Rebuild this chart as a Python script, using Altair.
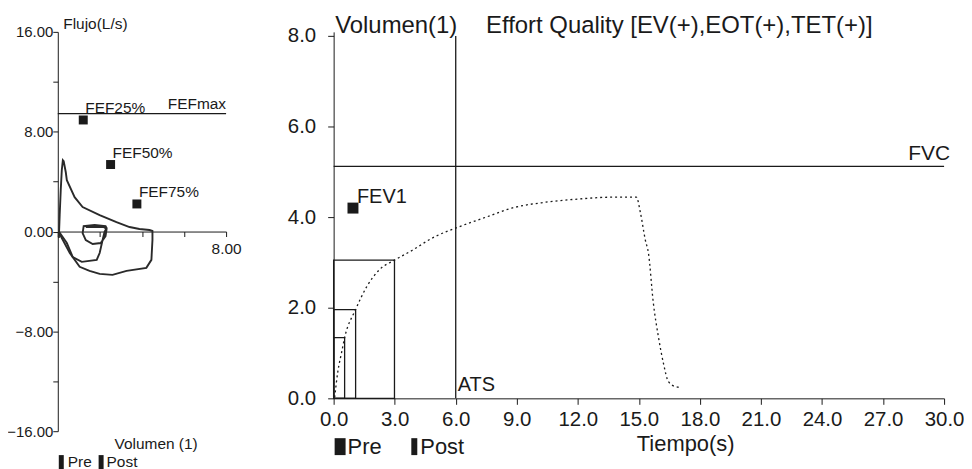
import altair as alt
import pandas as pd

FONT = "Liberation Sans"
INK = "#1a1a1a"

# ---------------- Left panel: flow-volume ----------------
loopA_vol = [0.05, 0.09, 0.14, 0.19, 0.24, 0.28, 0.38, 0.43, 0.80, 1.18, 1.99, 2.79, 3.41, 3.88,
             4.36, 4.50, 4.50, 4.45, 4.21, 3.27, 2.60, 1.99, 1.51, 1.04, 0.57, 0.19, 0.05]
loopA_flow = [-0.52, 1.32, 3.31, 4.91, 5.71, 5.63, 4.75, 4.11, 2.75, 1.96, 1.32, 0.76, 0.36, 0.20,
              0.12, 0.04, -0.68, -2.27, -2.91, -3.15, -3.47, -3.39, -3.15, -2.83, -1.72, -0.52, -0.04]
loopB_vol = [0.05, 0.43, 0.71, 1.14, 1.85, 1.99, 2.13, 2.22, 2.32, 2.27, 1.75, 1.23, 1.18, 1.33,
             1.66, 2.04, 2.27, 2.32, 2.18, 1.33]
loopB_flow = [0.0, -0.92, -2.04, -2.43, -2.27, -1.72, -0.68, -0.04, 0.28, 0.44, 0.52, 0.44, -0.12,
              -0.68, -1.00, -0.92, -0.36, 0.20, 0.36, 0.36]

fef_names = ["FEF25%", "FEF50%", "FEF75%"]
fef_vol = [1.21, 2.51, 3.76]
fef_flow = [8.94, 5.37, 2.21]
fefmax = 9.45

# ---------------- Right panel: volume-time ----------------
vt_time = [0.05, 0.20, 0.39, 0.54, 1.08, 1.62, 2.25, 2.99, 3.87, 4.85, 6.12, 7.49, 8.76, 10.43,
           12.04, 13.66, 14.88, 15.08, 15.32, 15.47, 15.71, 15.96, 16.2, 16.45, 16.79, 17.08]
vt_vol = [0.02, 0.57, 1.01, 1.34, 1.96, 2.46, 2.84, 3.05, 3.27, 3.54, 3.78, 4.00, 4.20, 4.33,
          4.40, 4.44, 4.44, 4.09, 3.49, 3.21, 2.11, 1.36, 0.79, 0.37, 0.26, 0.24]
box_time = [0.54, 1.08, 2.99]
box_vol = [1.34, 1.96, 3.05]
fvc = 5.12
ats_time = 6.0
fev1_time = 0.95
fev1_vol = 4.2

# ---------------- Left chart ----------------
LFS = 15.5
df_loops = pd.DataFrame({
    "x": loopA_vol + loopB_vol,
    "y": loopA_flow + loopB_flow,
    "loop": ["A"] * len(loopA_vol) + ["B"] * len(loopB_vol),
    "i": list(range(len(loopA_vol))) + list(range(len(loopB_vol))),
})
df_fef = pd.DataFrame({"x": fef_vol, "y": fef_flow, "name": fef_names})
df_fefmax = pd.DataFrame({"x": [0.0], "x2": [8.0], "y": [fefmax], "name": ["FEFmax"]})
one = pd.DataFrame({"k": [0]})

lx_scale = alt.Scale(domain=[0, 8], nice=False)
ly_scale = alt.Scale(domain=[-16, 16], nice=False)

lx = alt.X("x:Q", scale=lx_scale, axis=alt.Axis(
    values=[0, 2, 4, 6, 8], labelExpr="datum.value == 8 ? '8.00' : ''",
    labelFlush=False, labelOverlap=False,
    offset=-200.5, tickSize=5, labelPadding=5, labelFontSize=LFS, title=None, grid=False,
    domainColor=INK, tickColor=INK, labelColor=INK, labelFont=FONT))
ly = alt.Y("y:Q", scale=ly_scale, axis=alt.Axis(
    values=list(range(-16, 17, 4)),
    labelExpr="datum.value % 8 == 0 ? format(datum.value, '.2f') : ''",
    labelFlush=False, labelOverlap=False,
    tickSize=5, labelPadding=0, labelFontSize=15, grid=False,
    domainColor=INK, tickColor=INK, labelColor=INK, labelFont=FONT,
    title="Flujo(L/s)", titleAngle=0, titleX=5, titleY=-3, titleAlign="left",
    titleBaseline="alphabetic", titleFontSize=LFS, titleFontWeight="normal",
    titleColor=INK, titleFont=FONT))

loops = alt.Chart(df_loops).mark_line(color="#2a2a2a", strokeWidth=1.9).encode(
    x=lx, y=ly, order="i:Q", detail="loop:N")
fefmax_rule = alt.Chart(df_fefmax).mark_rule(color=INK, strokeWidth=1.3).encode(
    x=alt.X("x:Q", scale=lx_scale), x2="x2:Q", y=alt.Y("y:Q", scale=ly_scale))
fefmax_text = alt.Chart(df_fefmax).mark_text(
    font=FONT, fontSize=LFS, align="right", baseline="alphabetic", dy=-5, color=INK).encode(
    x=alt.X("x2:Q", scale=lx_scale), y=alt.Y("y:Q", scale=ly_scale), text="name:N")
fef_pts = alt.Chart(df_fef).mark_square(size=81, color=INK, opacity=1).encode(
    x=alt.X("x:Q", scale=lx_scale), y=alt.Y("y:Q", scale=ly_scale))
fef_txt = alt.Chart(df_fef).mark_text(
    font=FONT, fontSize=LFS, align="left", baseline="alphabetic", dx=2, dy=-7, color=INK).encode(
    x=alt.X("x:Q", scale=lx_scale), y=alt.Y("y:Q", scale=ly_scale), text="name:N")
l_vol_label = alt.Chart(one).mark_text(
    font=FONT, fontSize=LFS, align="left", baseline="middle", color=INK, text="Volumen (1)").encode(
    x=alt.value(57), y=alt.value(414))
l_leg_bars = alt.Chart(pd.DataFrame({"a": [1, 41], "b": [6, 46]})).mark_rect(color=INK).encode(
    x=alt.X("a:Q", scale=None), x2="b:Q", y=alt.value(425), y2=alt.value(441))
l_leg_txt = alt.Chart(pd.DataFrame({"a": [10, 49], "t": ["Pre", "Post"]})).mark_text(
    font=FONT, fontSize=LFS, align="left", baseline="middle", color=INK).encode(
    x=alt.X("a:Q", scale=None), y=alt.value(432), text="t:N")

left = alt.layer(loops, fefmax_rule, fefmax_text, fef_pts, fef_txt,
                 l_vol_label, l_leg_bars, l_leg_txt).properties(width=169, height=401)

# ---------------- Right chart ----------------
RFS = 20.5
TFS = 24
df_vt = pd.DataFrame({"x": vt_time, "y": vt_vol, "i": list(range(len(vt_time)))})
df_box = pd.DataFrame({"x": [0.0] * 3, "x2": box_time, "y": [0.0] * 3, "y2": box_vol})
df_fvc = pd.DataFrame({"x": [0.0], "x2": [30.0], "y": [fvc], "t": ["FVC"]})
df_ats = pd.DataFrame({"x": [ats_time], "y": [0.0], "y2": [8.0], "t": ["ATS"]})
df_fev1 = pd.DataFrame({"x": [fev1_time], "y": [fev1_vol], "t": ["FEV1"]})

rx_scale = alt.Scale(domain=[0, 30], nice=False)
ry_scale = alt.Scale(domain=[0, 8.09], nice=False)

rx = alt.X("x:Q", scale=rx_scale, axis=alt.Axis(
    values=list(range(0, 31, 3)), format=".1f", tickSize=6, labelPadding=5,
    labelFlush=False, labelOverlap=False,
    labelFontSize=RFS, grid=False, domainColor=INK, tickColor=INK, labelColor=INK,
    labelFont=FONT, title="Tiempo(s)", titleX=353, titleY=45, titleAlign="center",
    titleBaseline="middle", titleFontSize=22, titleFontWeight="normal", titleColor=INK,
    titleFont=FONT))
ry = alt.Y("y:Q", scale=ry_scale, axis=alt.Axis(
    values=[0, 2, 4, 6, 8], format=".1f", tickSize=6, labelPadding=12,
    labelFlush=False, labelOverlap=False,
    labelFontSize=RFS, grid=False, domainColor=INK, tickColor=INK, labelColor=INK,
    labelFont=FONT, title="Volumen(1)", titleAngle=0, titleX=1, titleY=1, titleAlign="left",
    titleBaseline="alphabetic", titleFontSize=TFS, titleFontWeight="normal",
    titleColor=INK, titleFont=FONT))

boxes = alt.Chart(df_box).mark_rect(filled=False, stroke=INK, strokeWidth=1.3).encode(
    x=rx, x2="x2:Q", y=ry, y2="y2:Q")
vt_line = alt.Chart(df_vt).mark_line(color=INK, strokeWidth=1.3, strokeDash=[2, 3],
                                     interpolate="monotone").encode(
    x=alt.X("x:Q", scale=rx_scale), y=alt.Y("y:Q", scale=ry_scale), order="i:Q")
fvc_rule = alt.Chart(df_fvc).mark_rule(color=INK, strokeWidth=1.3).encode(
    x=alt.X("x:Q", scale=rx_scale), x2="x2:Q", y=alt.Y("y:Q", scale=ry_scale))
fvc_txt = alt.Chart(df_fvc).mark_text(
    font=FONT, fontSize=21, align="right", baseline="alphabetic", dx=6, dy=-6, color=INK).encode(
    x=alt.X("x2:Q", scale=rx_scale), y=alt.Y("y:Q", scale=ry_scale), text="t:N")
ats_rule = alt.Chart(df_ats).mark_rule(color=INK, strokeWidth=1.3).encode(
    x=alt.X("x:Q", scale=rx_scale), y=alt.Y("y:Q", scale=ry_scale), y2="y2:Q")
ats_txt = alt.Chart(df_ats).mark_text(
    font=FONT, fontSize=20, align="left", baseline="alphabetic", dx=2, dy=-7, color=INK).encode(
    x=alt.X("x:Q", scale=rx_scale), y=alt.Y("y:Q", scale=ry_scale), text="t:N")
fev1_pt = alt.Chart(df_fev1).mark_square(size=121, color=INK, opacity=1).encode(
    x=alt.X("x:Q", scale=rx_scale), y=alt.Y("y:Q", scale=ry_scale))
fev1_txt = alt.Chart(df_fev1).mark_text(
    font=FONT, fontSize=20, align="left", baseline="alphabetic", dx=4, dy=-5, color=INK).encode(
    x=alt.X("x:Q", scale=rx_scale), y=alt.Y("y:Q", scale=ry_scale), text="t:N")
effort = alt.Chart(one).mark_text(
    font=FONT, fontSize=TFS, align="left", baseline="alphabetic", color=INK,
    text="Effort Quality [EV(+),EOT(+),TET(+)]").encode(x=alt.value(153), y=alt.value(1))
r_leg_bars = alt.Chart(pd.DataFrame({"a": [1, 78], "b": [12, 84]})).mark_rect(color=INK).encode(
    x=alt.X("a:Q", scale=None), x2="b:Q", y=alt.value(408), y2=alt.value(425))
r_leg_txt = alt.Chart(pd.DataFrame({"a": [14, 87], "t": ["Pre", "Post"]})).mark_text(
    font=FONT, fontSize=22, align="left", baseline="middle", color=INK).encode(
    x=alt.X("a:Q", scale=None), y=alt.value(417), text="t:N")

right = alt.layer(boxes, vt_line, fvc_rule, fvc_txt, ats_rule, ats_txt, fev1_pt, fev1_txt,
                  effort, r_leg_bars, r_leg_txt).properties(width=613, height=368)

chart = alt.hconcat(left, right, spacing=45).properties(
    padding={"left": -2, "top": 5, "right": 0, "bottom": 0}
).configure(font=FONT).configure_view(stroke=None).configure_axis(
    grid=False, titleFontWeight="normal")

chart.save("out.html", embed_options={"renderer": "svg", "actions": False})
